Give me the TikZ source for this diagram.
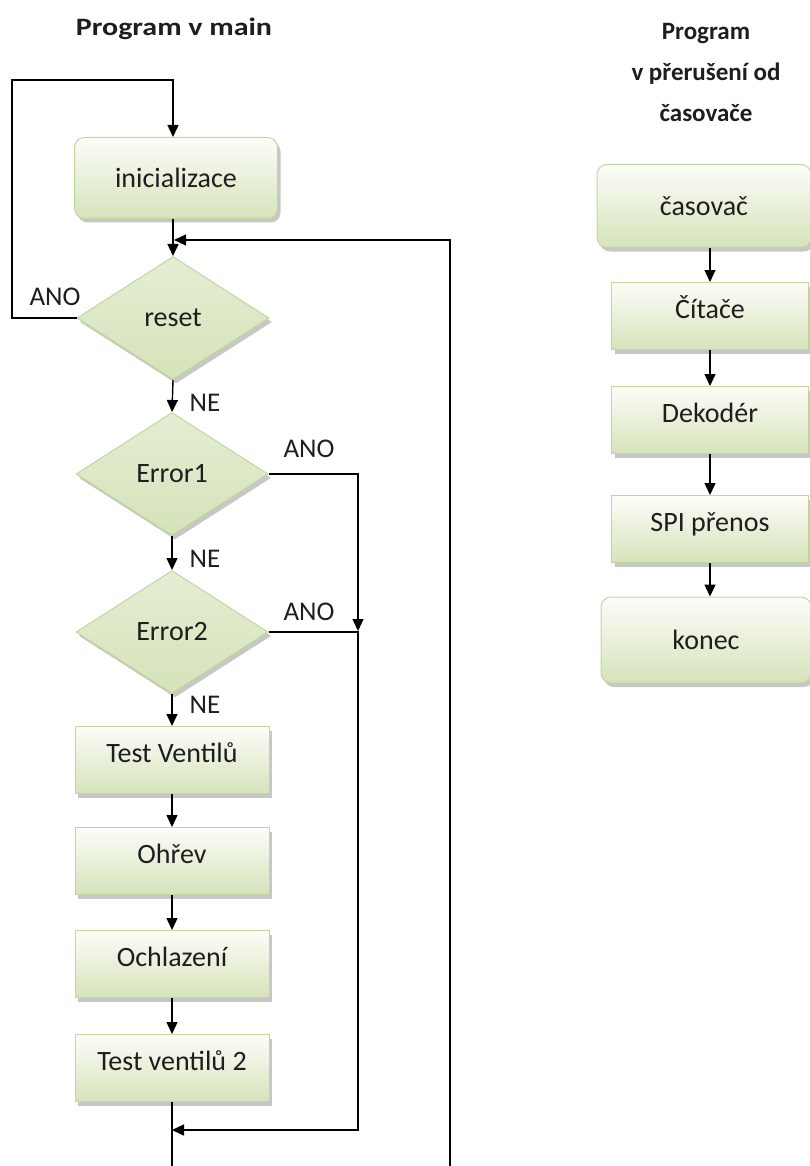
\documentclass[tikz,border=0pt]{standalone}
\usepackage{fontspec}
\setmainfont{Carlito}
\usetikzlibrary{shapes.geometric,arrows.meta,shadows}
\definecolor{bordg}{RGB}{195,214,155}
\definecolor{topg}{RGB}{252,253,249}
\definecolor{botg}{RGB}{213,227,186}
\definecolor{txt}{RGB}{30,30,30}
\tikzset{
  base/.style={draw=bordg, line width=1pt, top color=topg, bottom color=botg, text=txt,
    font=\fontsize{28}{33}\selectfont,
    drop shadow={shadow xshift=3pt, shadow yshift=-4pt, fill=black!40, opacity=0.55}},
  proc/.style={base, rectangle, inner sep=0pt, minimum width=194pt, minimum height=67pt,
    text height=18pt, text depth=14pt},
  rproc/.style={base, rectangle, rounded corners=10pt, inner sep=0pt, minimum width=203pt, minimum height=81pt},
  dec/.style={base, diamond, inner sep=0pt, aspect=1.55, minimum width=192pt, minimum height=123pt,
    top color=topg!40!botg},
  conn/.style={line width=1.4pt, black},
  arr/.style={conn, -{Triangle[length=12pt,width=11pt]}},
  lbl/.style={text=txt, font=\fontsize{27}{32}\selectfont},
  ttl/.style={text=txt, font=\fontsize{25}{41}\selectfont\bfseries, align=center}
}
\begin{document}
\begin{tikzpicture}[x=1pt,y=-1pt]
\useasboundingbox (0,0) rectangle (810,1166);
% titles
\node[ttl] (t1) at (174,29) {\scalebox{1.2}[1]{Program v main}};
\node[ttl] (t2) at (706,72) {Program\\v přerušení od\\časovače};
% main column
\node[rproc] (init) at (176,178) {inicializace};
\node[dec] (reset) at (173,318) {reset};
\node[dec] (err1) at (172,474) {Error1};
\node[dec] (err2) at (172,632) {Error2};
\node[proc] (tv1) at (172,760) {Test Ventilů};
\node[proc] (ohrev) at (172,861) {Ohřev};
\node[proc] (ochl) at (172,964) {Ochlazení};
\node[proc] (tv2) at (172,1068) {Test ventilů 2};
% right column
\node[rproc, minimum width=214pt, minimum height=83pt] (cas) at (704,206) {časovač};
\node[proc, minimum width=197pt] (cit) at (710,316) {Čítače};
\node[proc, minimum width=197pt] (dek) at (710,420) {Dekodér};
\node[proc, minimum width=197pt] (spi) at (710,529) {SPI přenos};
\node[rproc, minimum width=210pt, minimum height=86pt] (kon) at (706,640) {konec};
% coordinates
\coordinate (lc) at (12,80);
\coordinate (merge) at (174,240);
\coordinate (rb) at (450,1166);
\coordinate (j) at (358,631);
\coordinate (mb) at (172,1130);
\coordinate (b1) at (172,1166);
% connectors main
\draw[arr] (reset.west) -| (lc) -| (reset.north |- init.north);
\draw[arr] (reset.north |- init.south) -- (reset.north);
\draw[arr] (rb) |- (merge);
\draw[arr] (reset.south) -- (err1.north);
\draw[arr] (err1.south) -- (err2.north);
\draw[arr] (err2.south) -- (tv1.north);
\draw[arr] (tv1.south) -- (ohrev.north);
\draw[arr] (ohrev.south) -- (ochl.north);
\draw[arr] (ochl.south) -- (tv2.north);
\draw[conn] (tv2.south) -- (b1);
\draw[arr] (err1.east) -| (j);
\draw[conn] (err2.east) -- (err2.east -| j);
\draw[arr] (j) |- (mb);
% connectors right
\draw[arr] (cit.north |- cas.south) -- (cit.north);
\draw[arr] (cit.south) -- (dek.north);
\draw[arr] (dek.south) -- (spi.north);
\draw[arr] (spi.south) -- (spi.south |- kon.north);
% labels
\node[lbl] (a1) at (55,297) {ANO};
\node[lbl] (a2) at (309,449) {ANO};
\node[lbl] (a3) at (309,612) {ANO};
\node[lbl] (n1) at (205,403) {NE};
\node[lbl] (n2) at (205,559) {NE};
\node[lbl] (n3) at (205,705) {NE};
\end{tikzpicture}
\end{document}
